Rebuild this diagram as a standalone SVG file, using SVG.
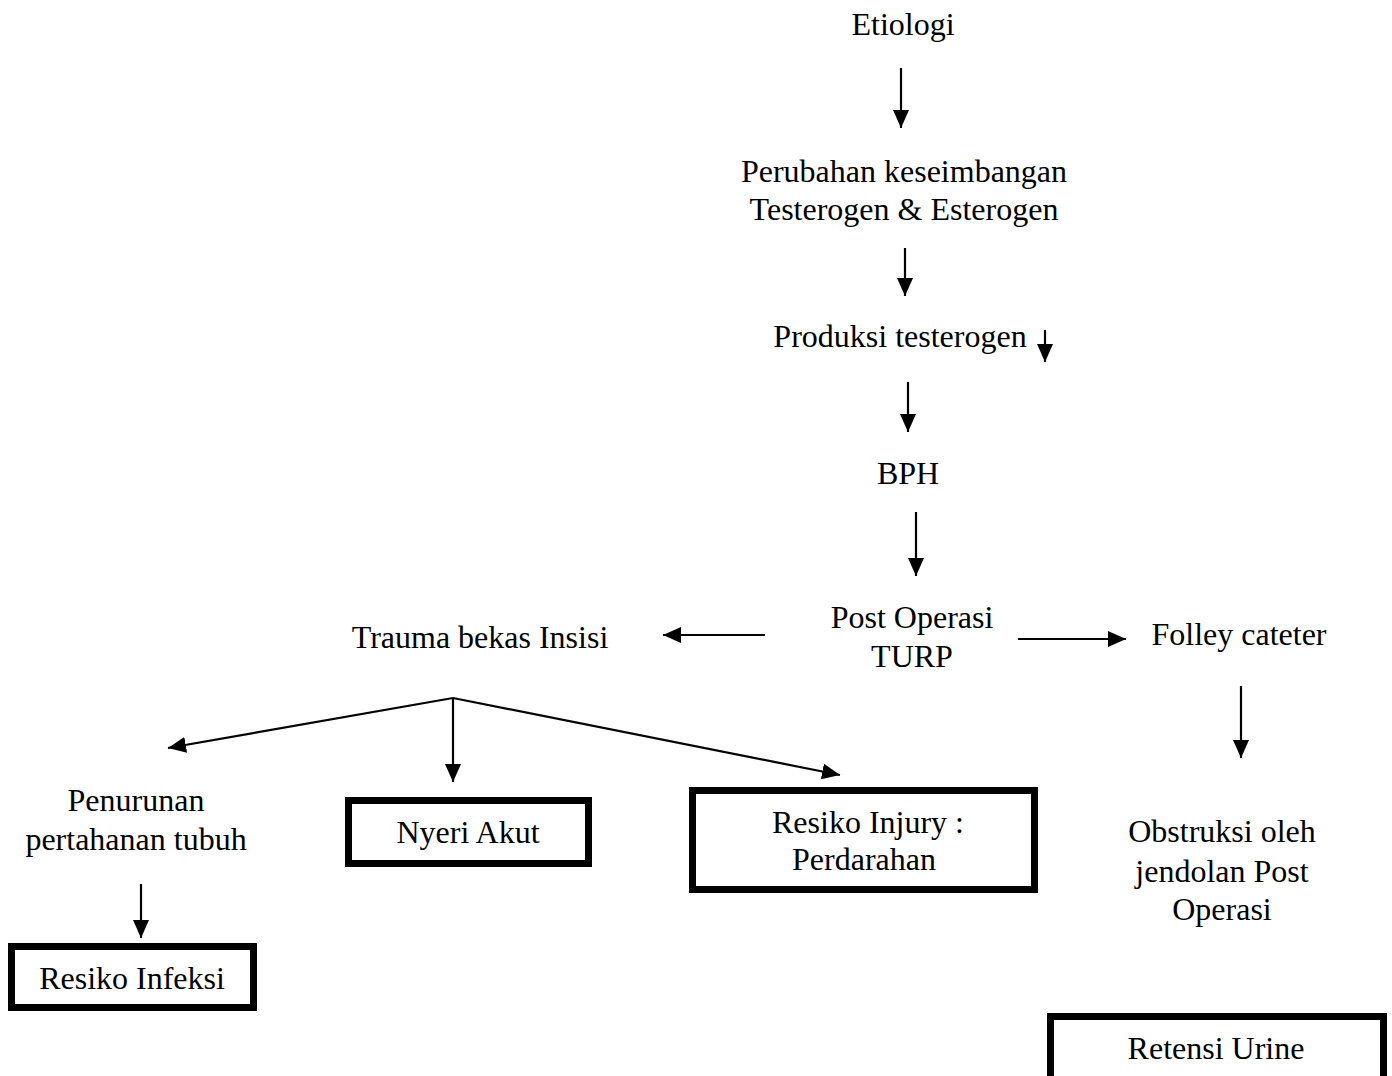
<svg xmlns="http://www.w3.org/2000/svg" width="1392" height="1076" viewBox="0 0 1392 1076">
<defs>
<style>
text{font-family:"Liberation Serif","Times New Roman",serif;font-size:32px;fill:#000;text-anchor:middle}
.c line{stroke:#000;stroke-width:2.2;fill:none;marker-end:url(#ah)}
.box{fill:#fff;stroke:#000;stroke-width:7}
</style>
<marker id="ah" markerUnits="userSpaceOnUse" markerWidth="18" markerHeight="16" viewBox="0 0 18 16" refX="18" refY="8" orient="auto">
<path d="M0,0 L18,8 L0,16 z" fill="#000"/>
</marker>
</defs>
<rect width="1392" height="1076" fill="#fff"/>
<g class="c" id="connectors">
<line x1="901" y1="68" x2="901" y2="128"/>
<line x1="905" y1="248" x2="905" y2="296"/>
<line x1="1045" y1="330" x2="1045" y2="362"/>
<line x1="908" y1="382" x2="908" y2="432"/>
<line x1="916" y1="512" x2="916" y2="576"/>
<line x1="765" y1="635" x2="663" y2="635"/>
<line x1="1018" y1="639" x2="1126" y2="639"/>
<line x1="1241" y1="686" x2="1241" y2="758"/>
<line x1="453" y1="698" x2="168" y2="748"/>
<line x1="453" y1="698" x2="453" y2="782"/>
<line x1="453" y1="698" x2="840" y2="775"/>
<line x1="141" y1="884" x2="141" y2="938"/>
</g>
<g id="etiologi"><text x="903" y="35">Etiologi</text></g>
<g id="perubahan"><text x="904" y="182">Perubahan keseimbangan</text><text x="904" y="220">Testerogen &amp; Esterogen</text></g>
<g id="produksi"><text x="900" y="347">Produksi testerogen</text></g>
<g id="bph"><text x="908" y="484">BPH</text></g>
<g id="postop"><text x="912" y="628">Post Operasi</text><text x="912" y="667">TURP</text></g>
<g id="trauma"><text x="480" y="648">Trauma bekas Insisi</text></g>
<g id="folley"><text x="1239" y="645">Folley cateter</text></g>
<g id="penurunan"><text x="136" y="811">Penurunan</text><text x="136" y="850">pertahanan tubuh</text></g>
<g id="infeksi"><rect class="box" x="11.5" y="946.5" width="242" height="61"/><text x="132" y="989">Resiko Infeksi</text></g>
<g id="nyeri"><rect class="box" x="348.5" y="800.5" width="240" height="63"/><text x="468" y="843">Nyeri Akut</text></g>
<g id="injury"><rect class="box" x="692.5" y="790.5" width="342" height="99"/><text x="868" y="833">Resiko Injury :</text><text x="864" y="870">Perdarahan</text></g>
<g id="obstruksi"><text x="1222" y="842">Obstruksi oleh</text><text x="1222" y="882">jendolan Post</text><text x="1222" y="920">Operasi</text></g>
<g id="retensi"><rect class="box" x="1050.5" y="1016.5" width="333" height="70"/><text x="1216" y="1059">Retensi Urine</text></g>
</svg>
